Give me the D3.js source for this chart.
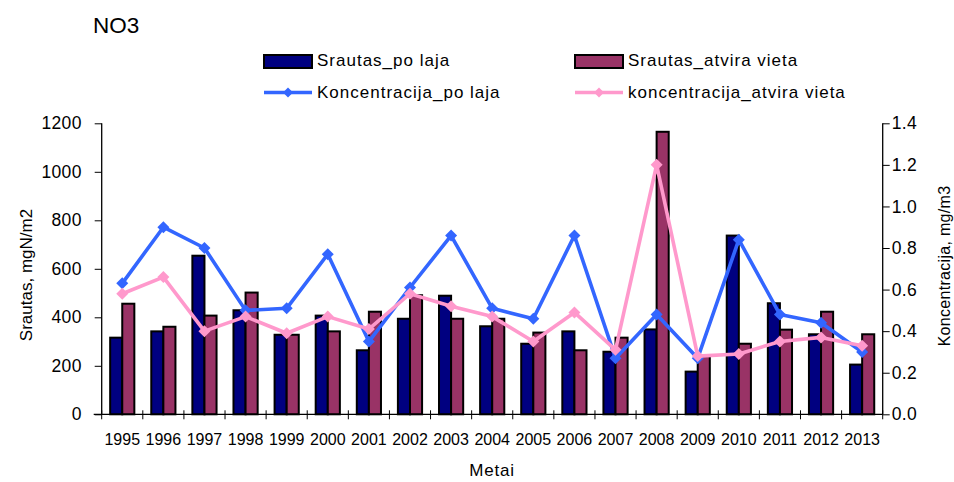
<!DOCTYPE html>
<html>
<head>
<meta charset="utf-8">
<script src="https://cdn.jsdelivr.net/npm/d3@7"></script>
<style>
  html, body { margin: 0; padding: 0; background: #fff; }
  svg { display: block; font-family: "Liberation Sans", Arial, sans-serif; }
</style>
</head>
<body>
<svg id="chart" width="954" height="482"></svg>
<script>
// NO3 flux (bars, left axis) and concentration (lines, right axis), 1995-2013
const years = ["1995","1996","1997","1998","1999","2000","2001","2002","2003","2004",
               "2005","2006","2007","2008","2009","2010","2011","2012","2013"];
const srautasPoLaja   = [316, 342, 654, 429, 328, 407, 264, 394, 489, 363, 291, 342, 258, 350, 176, 737, 458, 330, 205];
const srautasAtvira   = [456, 361, 407, 502, 328, 342, 423, 491, 394, 394, 337, 264, 316, 1165, 240, 291, 349, 423, 330];
const koncPoLaja      = [0.63, 0.90, 0.80, 0.50, 0.51, 0.77, 0.35, 0.61, 0.86, 0.51, 0.46, 0.86, 0.27, 0.48, 0.27, 0.84, 0.48, 0.44, 0.30];
const koncAtvira      = [0.58, 0.66, 0.40, 0.47, 0.39, 0.47, 0.41, 0.58, 0.52, 0.47, 0.35, 0.49, 0.31, 1.20, 0.28, 0.29, 0.35, 0.37, 0.33];
const leftTicks  = [0, 200, 400, 600, 800, 1000, 1200];
const rightTicks = [0, 0.2, 0.4, 0.6, 0.8, 1.0, 1.2, 1.4];

const barSeries = [
  { name: "Srautas_po laja",     values: srautasPoLaja, color: "#000080" },
  { name: "Srautas_atvira vieta", values: srautasAtvira, color: "#993366" }
];
const lineSeries = [
  { name: "Koncentracija_po laja",      values: koncPoLaja, color: "#3366FF" },
  { name: "koncentracija_atvira vieta", values: koncAtvira, color: "#FF99CC" }
];

const svg = d3.select("#chart");
const plot = { left: 101.7, right: 882.7, top: 123.3, bottom: 414.3 };

const x = d3.scaleBand().domain(years).range([plot.left, plot.right]).padding(0);
const xInner = d3.scaleBand().domain(barSeries.map(d => d.name))
  .range([0, x.bandwidth()]).paddingInner(0).paddingOuter(0.7);
const yLeft = d3.scaleLinear().domain([0, 1200]).range([plot.bottom, plot.top]);
const yRight = d3.scaleLinear().domain([0, 1.4]).range([plot.bottom, plot.top]);

// Title
svg.append("text").attr("x", 93).attr("y", 33)
  .attr("font-size", 22.5).attr("fill", "#000").text("NO3");

// Bars
const barG = svg.append("g");
barSeries.forEach(s => {
  barG.selectAll(null).data(years).enter().append("rect")
    .attr("x", (d) => x(d) + xInner(s.name))
    .attr("y", (d, i) => yLeft(s.values[i]))
    .attr("width", xInner.bandwidth())
    .attr("height", (d, i) => yLeft(0) - yLeft(s.values[i]))
    .attr("fill", s.color)
    .attr("stroke", "#000")
    .attr("stroke-width", 2);
});

// Left axis
const gLeft = svg.append("g").attr("transform", `translate(${plot.left},0)`)
  .call(d3.axisLeft(yLeft).tickValues(leftTicks).tickSize(7).tickPadding(13).tickFormat(d3.format("d")));
gLeft.select(".domain").attr("stroke", "#000").attr("stroke-width", 1.3).attr("d", `M0,${plot.top}V${plot.bottom}`);
gLeft.selectAll(".tick line").attr("stroke", "#000");
gLeft.selectAll(".tick text").attr("font-size", 17.5).attr("font-family", "Liberation Sans, Arial, sans-serif")
  .attr("fill", "#000").attr("letter-spacing", 0.3);

// Right axis
const gRight = svg.append("g").attr("transform", `translate(${plot.right},0)`)
  .call(d3.axisRight(yRight).tickValues(rightTicks).tickSize(7).tickPadding(2).tickFormat(d3.format(".1f")));
gRight.select(".domain").attr("stroke", "#000").attr("stroke-width", 1.3).attr("d", `M0,${plot.top}V${plot.bottom}`);
gRight.selectAll(".tick line").attr("stroke", "#000");
gRight.selectAll(".tick text").attr("font-size", 17.5).attr("font-family", "Liberation Sans, Arial, sans-serif")
  .attr("fill", "#000").attr("letter-spacing", 0.3);

// Bottom axis: labels at category centres, ticks between categories
const gBottom = svg.append("g").attr("transform", `translate(0,${plot.bottom})`)
  .call(d3.axisBottom(x).tickSize(0).tickPadding(19));
gBottom.select(".domain").attr("stroke", "#000").attr("stroke-width", 1.3)
  .attr("d", `M${plot.left - 8},0H${plot.right}`);
gBottom.selectAll(".tick text").attr("font-size", 16).attr("font-family", "Liberation Sans, Arial, sans-serif")
  .attr("fill", "#000");
const boundaries = years.map(d => x(d)).concat([x.range()[1]]);
gBottom.selectAll(".bound").data(boundaries).enter().append("line")
  .attr("class", "bound")
  .attr("x1", d => d).attr("x2", d => d)
  .attr("y1", -4).attr("y2", 5)
  .attr("stroke", "#000").attr("stroke-width", 1);

// Concentration lines with diamond markers
const diamond = (r) => `M0,${-r}L${r},0L0,${r}L${-r},0Z`;
const cx = (d) => x(d) + x.bandwidth() / 2;
lineSeries.forEach(s => {
  const line = d3.line().x(d => cx(d)).y((d, i) => yRight(s.values[i]));
  svg.append("path").datum(years)
    .attr("d", line)
    .attr("fill", "none")
    .attr("stroke", s.color)
    .attr("stroke-width", 3.6)
    .attr("stroke-linejoin", "round");
  svg.append("g").selectAll("path").data(years).enter().append("path")
    .attr("transform", (d, i) => `translate(${cx(d)},${yRight(s.values[i])})`)
    .attr("d", diamond(6))
    .attr("fill", s.color);
});

// Axis titles
svg.append("text")
  .attr("transform", "translate(32,275) rotate(-90)")
  .attr("text-anchor", "middle").attr("font-size", 17).attr("fill", "#000")
  .text("Srautas, mgN/m2");
svg.append("text")
  .attr("transform", "translate(950,266) rotate(-90)")
  .attr("text-anchor", "middle").attr("font-size", 16).attr("fill", "#000")
  .attr("letter-spacing", 0.3)
  .text("Koncentracija, mg/m3");
svg.append("text")
  .attr("x", 492).attr("y", 476)
  .attr("text-anchor", "middle").attr("font-size", 17).attr("fill", "#000")
  .attr("letter-spacing", 0.8)
  .text("Metai");

// Legend
const legendCols = [264, 575];
const legend = svg.append("g");
barSeries.forEach((s, i) => {
  const lx = legendCols[i];
  legend.append("rect").attr("x", lx).attr("y", 55).attr("width", 48).attr("height", 13)
    .attr("fill", s.color).attr("stroke", "#000").attr("stroke-width", 2);
  legend.append("text").attr("x", lx + 53).attr("y", 66).attr("font-size", 17)
    .attr("letter-spacing", 1).attr("fill", "#000").text(s.name);
});
lineSeries.forEach((s, i) => {
  const lx = legendCols[i];
  legend.append("line").attr("x1", lx).attr("x2", lx + 48).attr("y1", 92.5).attr("y2", 92.5)
    .attr("stroke", s.color).attr("stroke-width", 3.6);
  legend.append("path").attr("transform", `translate(${lx + 24},92.5)`)
    .attr("d", diamond(5)).attr("fill", s.color);
  legend.append("text").attr("x", lx + 53).attr("y", 97.5).attr("font-size", 17)
    .attr("letter-spacing", 1).attr("fill", "#000").text(s.name);
});
</script>
</body>
</html>
